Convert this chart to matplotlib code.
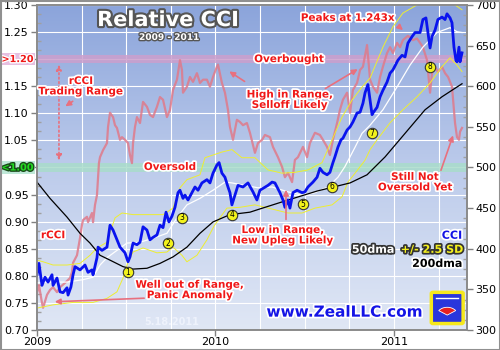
import numpy as np
import matplotlib
matplotlib.use('Agg')
from matplotlib import pyplot as plt
from matplotlib import patheffects as pe
from matplotlib.ticker import MultipleLocator, FuncFormatter
from matplotlib.colors import LinearSegmentedColormap
from matplotlib.patches import FancyBboxPatch, Rectangle, Wedge

# rCCI, years since 2009 -> ratio (left axis)
rcci_yr = [0.000, 0.011, 0.028, 0.034, 0.056, 0.073, 0.090, 0.112, 0.129, 0.157,
           0.185, 0.196, 0.202, 0.224, 0.241, 0.252, 0.258, 0.280, 0.286, 0.308,
           0.314, 0.325, 0.336, 0.342, 0.347, 0.353, 0.370, 0.392, 0.398, 0.409,
           0.426, 0.437, 0.448, 0.465, 0.476, 0.493, 0.510, 0.521, 0.532, 0.538,
           0.549, 0.560, 0.577, 0.594, 0.616, 0.633, 0.650, 0.672, 0.689, 0.706,
           0.728, 0.745, 0.762, 0.784, 0.801, 0.812, 0.818, 0.840, 0.857, 0.874,
           0.896, 0.913, 0.930, 0.952, 0.969, 0.986, 1.008, 1.014, 1.036, 1.053,
           1.070, 1.081, 1.098, 1.120, 1.137, 1.154, 1.176, 1.193, 1.221, 1.238,
           1.261, 1.277, 1.305, 1.322, 1.350, 1.373, 1.389, 1.406, 1.429, 1.445,
           1.462, 1.490, 1.513, 1.529, 1.557, 1.585, 1.602, 1.625, 1.641, 1.658,
           1.681, 1.697, 1.714, 1.737, 1.754, 1.770, 1.793, 1.810, 1.826, 1.849,
           1.866, 1.882, 1.905, 1.922, 1.938, 1.961, 1.978, 1.994, 2.017, 2.034,
           2.050, 2.078, 2.106, 2.129, 2.146, 2.162, 2.185, 2.190, 2.202, 2.213,
           2.230, 2.246, 2.269, 2.286, 2.303, 2.325, 2.331, 2.342, 2.353, 2.364,
           2.370, 2.381]
rcci = [0.768, 0.783, 0.750, 0.741, 0.765, 0.774, 0.779, 0.770, 0.779, 0.787,
        0.796, 0.807, 0.824, 0.838, 0.870, 0.894, 0.903, 0.909, 0.899, 0.916,
        0.899, 0.931, 0.949, 0.981, 1.008, 1.019, 1.032, 1.045, 1.075, 1.101,
        1.093, 1.078, 1.073, 1.051, 1.056, 1.051, 1.045, 1.023, 1.008, 1.045,
        1.075, 1.093, 1.082, 1.121, 1.112, 1.097, 1.093, 1.112, 1.130, 1.125,
        1.093, 1.106, 1.143, 1.162, 1.198, 1.180, 1.138, 1.149, 1.167, 1.158,
        1.174, 1.156, 1.162, 1.162, 1.149, 1.167, 1.186, 1.190, 1.156, 1.138,
        1.106, 1.075, 1.051, 1.088, 1.084, 1.078, 1.082, 1.064, 1.027, 1.045,
        1.051, 1.060, 1.056, 1.038, 1.019, 1.001, 0.982, 0.990, 0.973, 1.014,
        1.019, 1.038, 1.019, 1.045, 1.064, 1.060, 1.051, 1.038, 1.023, 1.051,
        1.082, 1.106, 1.125, 1.138, 1.101, 1.143, 1.156, 1.180, 1.186, 1.226,
        1.162, 1.149, 1.138, 1.167, 1.186, 1.211, 1.222, 1.211, 1.230, 1.222,
        1.235, 1.243, 1.235, 1.238, 1.230, 1.222, 1.198, 1.180, 1.138, 1.174,
        1.186, 1.176, 1.186, 1.174, 1.167, 1.149, 1.125, 1.082, 1.056, 1.051,
        1.066, 1.073]

# CCI index (right axis)
cci_yr = [0.000, 0.011, 0.028, 0.045, 0.062, 0.084, 0.090, 0.112, 0.129, 0.146,
          0.168, 0.174, 0.190, 0.202, 0.213, 0.241, 0.269, 0.286, 0.308, 0.314,
          0.336, 0.342, 0.364, 0.392, 0.409, 0.426, 0.448, 0.465, 0.493, 0.510,
          0.521, 0.538, 0.560, 0.577, 0.594, 0.616, 0.633, 0.650, 0.672, 0.689,
          0.706, 0.723, 0.739, 0.756, 0.773, 0.790, 0.801, 0.818, 0.829, 0.846,
          0.868, 0.885, 0.902, 0.924, 0.952, 0.969, 0.986, 1.008, 1.020, 1.036,
          1.053, 1.070, 1.081, 1.092, 1.109, 1.126, 1.154, 1.182, 1.210, 1.232,
          1.249, 1.294, 1.317, 1.333, 1.361, 1.378, 1.389, 1.406, 1.417, 1.434,
          1.457, 1.485, 1.501, 1.518, 1.546, 1.569, 1.585, 1.602, 1.625, 1.641,
          1.658, 1.669, 1.686, 1.703, 1.714, 1.737, 1.754, 1.770, 1.793, 1.810,
          1.826, 1.838, 1.854, 1.866, 1.877, 1.882, 1.905, 1.922, 1.938, 1.961,
          1.978, 1.994, 2.022, 2.045, 2.062, 2.078, 2.101, 2.118, 2.146, 2.162,
          2.179, 2.190, 2.202, 2.213, 2.230, 2.246, 2.269, 2.286, 2.297, 2.314,
          2.325, 2.336, 2.347, 2.353, 2.364, 2.370, 2.381]
cci = [368, 382, 355, 365, 359, 368, 355, 364, 347, 346,
       352, 343, 353, 368, 378, 374, 380, 371, 374, 368,
       389, 402, 398, 402, 429, 423, 411, 402, 395, 384,
       390, 407, 405, 408, 427, 423, 411, 414, 417, 429,
       426, 445, 433, 440, 451, 469, 472, 462, 466, 460,
       469, 476, 472, 481, 485, 481, 493, 503, 506, 493,
       488, 476, 469, 454, 466, 478, 476, 481, 470, 460,
       472, 478, 482, 481, 469, 460, 451, 460, 450, 469,
       472, 469, 470, 476, 482, 488, 499, 494, 491, 494,
       506, 513, 525, 534, 536, 546, 550, 556, 567, 568,
       579, 592, 602, 583, 565, 567, 574, 587, 595, 605,
       616, 620, 632, 638, 636, 653, 661, 666, 666, 682,
       684, 666, 647, 661, 669, 682, 685, 682, 689, 684,
       678, 648, 632, 630, 648, 630, 641]

# 50-day moving average
ma50_yr = [0.000, 0.073, 0.168, 0.258, 0.314, 0.353, 0.392, 0.448, 0.504, 0.577,
           0.650, 0.728, 0.784, 0.840, 0.913, 0.986, 1.053, 1.092, 1.165, 1.238,
           1.317, 1.406, 1.485, 1.557, 1.630, 1.686, 1.725, 1.782, 1.821, 1.866,
           1.938, 2.017, 2.090, 2.162, 2.241, 2.314, 2.353, 2.381]
ma50 = [358, 359, 359, 362, 365, 380, 389, 398, 407, 408,
        413, 419, 438, 454, 462, 472, 482, 481, 478, 475,
        476, 470, 466, 469, 476, 488, 501, 525, 542, 552,
        571, 599, 626, 648, 666, 672, 667, 666]

# +2.5 SD band
upper_yr = [0.000, 0.034, 0.090, 0.168, 0.241, 0.297, 0.336, 0.392, 0.437, 0.476,
            0.538, 0.616, 0.706, 0.762, 0.801, 0.840, 0.913, 0.941, 1.036, 1.092,
            1.148, 1.221, 1.294, 1.373, 1.445, 1.518, 1.597, 1.653, 1.709, 1.765,
            1.821, 1.866, 1.938, 1.994, 2.050, 2.129, 2.202, 2.275, 2.342, 2.381]
upper = [386, 384, 380, 380, 382, 392, 401, 408, 438, 444,
         442, 442, 442, 450, 475, 485, 491, 512, 519, 522,
         512, 512, 497, 493, 494, 497, 506, 534, 562, 583,
         599, 610, 648, 673, 690, 700, 706, 706, 700, 694]

# -2.5 SD band
lower_yr = [0.000, 0.090, 0.202, 0.314, 0.392, 0.448, 0.482, 0.510, 0.538, 0.594,
            0.672, 0.728, 0.762, 0.812, 0.840, 0.896, 0.952, 0.992, 1.064, 1.137,
            1.221, 1.333, 1.406, 1.485, 1.557, 1.653, 1.709, 1.742, 1.782, 1.838,
            1.866, 1.905, 1.978, 2.050, 2.129, 2.202, 2.269, 2.314, 2.353, 2.381]
lower = [327, 331, 334, 334, 339, 347, 364, 384, 396, 401,
         395, 396, 402, 392, 384, 392, 411, 428, 450, 451,
         454, 448, 444, 444, 450, 454, 464, 482, 493, 509,
         522, 534, 555, 571, 587, 604, 624, 635, 626, 618]

# 200-day moving average
ma200_yr = [0.000, 0.073, 0.168, 0.241, 0.297, 0.353, 0.409, 0.482, 0.538, 0.616,
            0.689, 0.762, 0.840, 0.913, 0.986, 1.081, 1.193, 1.249, 1.378, 1.569,
            1.754, 1.849, 1.950, 2.062, 2.174, 2.269, 2.381]
ma200 = [482, 462, 439, 419, 407, 392, 386, 378, 375, 376,
         382, 390, 402, 419, 433, 442, 445, 449, 458, 471,
         481, 491, 513, 542, 571, 587, 603]

# numbered buy points on the CCI
marker_yr = [0.510, 0.734, 0.812, 1.092, 1.490, 1.653, 1.877, 2.202]
marker_cci = [371, 407, 438, 442, 455, 476, 542, 624]
marker_lbl = ['1', '2', '3', '4', '5', '6', '7', '8']

left_ticks = np.arange(0.70, 1.301, 0.05)
year_ticks = [2009, 2010, 2011]

RED = '#f01818'
ARROW = '#e8707e'


def yrs(a):
    return 2009 + np.asarray(a)


fig = plt.figure(figsize=(5, 3.5), dpi=100)
ax = fig.add_axes([0.074, 0.057, 0.86, 0.929])
ax2 = ax.twinx()
ax2.patch.set_visible(False)

# blue gradient plot background
grad = np.linspace(0, 1, 256)[:, None]
bg = LinearSegmentedColormap.from_list('bg', ['#e0e7f5', '#bccbeb', '#8ba4db'])
ax.imshow(grad, extent=[0, 1, 0, 1], transform=ax.transAxes, cmap=bg,
          origin='lower', aspect='auto', zorder=0)

ax.axhspan(1.193, 1.207, color='#cc9fcc', alpha=0.85, zorder=1, lw=0)
ax.axhspan(0.992, 1.008, color='#a9dccb', alpha=0.85, zorder=1, lw=0)

ax.plot(yrs(rcci_yr), rcci, color='#e07a8a', lw=1.6, alpha=0.85, zorder=3)

ax2.plot(yrs(upper_yr), upper, color='#eeee30', lw=0.7)
ax2.plot(yrs(lower_yr), lower, color='#eeee30', lw=0.7)
ax2.plot(yrs(ma50_yr), ma50, color='white', lw=0.9)
ax2.plot(yrs(ma200_yr), ma200, color='black', lw=0.9)
ax2.plot(yrs(cci_yr), cci, color='#0a14ee', lw=2.0)

for t, c, s in zip(yrs(marker_yr), marker_cci, marker_lbl):
    ax2.plot(t, c, 'o', ms=7.5, mfc='#f2f21c', mec='#333333', mew=0.8, zorder=5)
    ax2.text(t, c, s, fontsize=5.5, ha='center', va='center', zorder=6)

# axes, ticks, grid
ax.set_xlim(2009, 2011.409)
ax.set_ylim(0.70, 1.30)
ax2.set_ylim(300, 700)
ax.set_xticks(year_ticks)
ax.set_xticklabels([str(y) for y in year_ticks])
ax.xaxis.set_minor_locator(MultipleLocator(0.25))
ax.set_yticks(left_ticks)
ax.yaxis.set_minor_locator(MultipleLocator(0.05 / 3))
ax.yaxis.set_major_formatter(FuncFormatter(
    lambda v, p: '' if abs(v - 1.2) < 1e-6 or abs(v - 1.0) < 1e-6 else '%.2f' % v))
ax2.yaxis.set_major_locator(MultipleLocator(50))
ax2.yaxis.set_minor_locator(MultipleLocator(12.5))

ax.grid(True, which='major', axis='y', color='white', lw=0.8, zorder=0.5)
ax.grid(True, which='both', axis='x', color='white', lw=0.8, zorder=0.5)
ax.set_axisbelow(True)

for a in (ax, ax2):
    a.tick_params(which='major', direction='out', length=4, width=1,
                  color='#808080', labelsize=8, pad=2)
    a.tick_params(which='minor', direction='in', length=3, width=1, color='#a0a0a0')
    for sp in a.spines.values():
        sp.set_color('#8a8a8a')
        sp.set_linewidth(1.2)
ax.tick_params(axis='x', which='minor', length=0)
ax.tick_params(axis='x', pad=1)

# highlighted range labels on the left axis
lbl_tr = ax.get_yaxis_transform()
ax.text(-0.008, 1.20, '>1.20', transform=lbl_tr, ha='right', va='center', fontsize=7,
        fontweight='bold', color=RED, clip_on=False,
        path_effects=[pe.withStroke(linewidth=2, foreground='white')],
        bbox=dict(fc='#e6bfe0', ec='none', pad=0.8))
ax.text(-0.008, 1.00, '<1.00', transform=lbl_tr, ha='right', va='center', fontsize=7,
        fontweight='bold', color='#22dd22', clip_on=False,
        path_effects=[pe.withStroke(linewidth=2, foreground='#1a4a1a')],
        bbox=dict(fc='#bfe8d8', ec='none', pad=0.8))

# annotations, drawn on top of all lines
T = ax.transData
red_fx = [pe.withStroke(linewidth=2.5, foreground='white')]


def note(x, y, s, **kw):
    opts = dict(fontsize=7.5, fontweight='bold', color=RED, ha='center', va='center',
                linespacing=1.05, path_effects=red_fx, zorder=8)
    opts.update(kw)
    ax2.text(x, y, s, transform=T, **opts)


def arrow(x0, y0, x1, y1, **kw):
    props = dict(arrowstyle='-|>', color=ARROW, lw=1.2, mutation_scale=8)
    props.update(kw)
    ax2.annotate('', xy=(x1, y1), xycoords=T, xytext=(x0, y0), textcoords=T,
                 arrowprops=props, zorder=7)


ax2.text(2009.734, 1.272, 'Relative CCI', transform=T, ha='center', va='center',
         fontsize=15, fontweight='bold', color='white', zorder=8,
         path_effects=[pe.withStroke(linewidth=3, foreground='#555555')])
ax2.text(2009.739, 1.240, '2009 - 2011', transform=T, ha='center', va='center',
         fontsize=6.5, fontweight='bold', color='white', zorder=8,
         path_effects=[pe.withStroke(linewidth=2, foreground='#555555')])

note(2009.246, 1.150, 'rCCI\nTrading Range')
arrow(2009.123, 1.008, 2009.123, 1.195, arrowstyle='<|-|>', ls=':', lw=1.2)
arrow(2009.213, 1.125, 2009.146, 1.110)
note(2009.745, 1.001, 'Oversold')
note(2010.412, 1.200, 'Overbought')
note(2010.417, 1.125, 'High in Range,\nSelloff Likely')
arrow(2010.176, 1.156, 2010.064, 1.180)
arrow(2010.602, 1.143, 2010.810, 1.184)
note(2010.742, 1.276, 'Peaks at 1.243x')
arrow(2011.017, 1.263, 2011.062, 1.250)
note(2011.118, 0.973, 'Still Not\nOversold Yet')
arrow(2011.258, 0.990, 2011.336, 1.064)
note(2010.378, 0.875, 'Low in Range,\nNew Upleg Likely')
arrow(2010.395, 0.899, 2010.395, 0.964)
note(2009.090, 0.875, 'rCCI')
note(2009.857, 0.774, 'Well out of Range,\nPanic Anomaly')
arrow(2009.616, 0.759, 2009.084, 0.752)

ax2.text(2009.756, 0.715, '5.18.2011', transform=T, ha='center', va='center',
         fontsize=7, fontweight='bold', color='#eef2fc', zorder=8)
ax2.text(2010.720, 0.733, 'www.ZealLLC.com', transform=T, ha='center', va='center',
         fontsize=11, fontweight='bold', color='#1414e6', zorder=8,
         path_effects=[pe.withStroke(linewidth=2.5, foreground='white')])

legend_fx = [pe.withStroke(linewidth=2.5, foreground='#333333')]
ax2.text(2011.381, 0.874, 'CCI', transform=T, ha='right', va='center', fontsize=8,
         fontweight='bold', color='#1414e6', zorder=8,
         path_effects=[pe.withStroke(linewidth=2.5, foreground='white')])
ax2.text(2010.882, 0.848, '50dma', transform=T, ha='center', va='center', fontsize=8,
         fontweight='bold', color='white', zorder=8, path_effects=legend_fx)
ax2.text(2011.213, 0.848, '+/- 2.5 SD', transform=T, ha='center', va='center', fontsize=8,
         fontweight='bold', color='#f4f020', zorder=8, path_effects=legend_fx)
ax2.text(2011.381, 0.822, '200dma', transform=T, ha='right', va='center', fontsize=8,
         fontweight='bold', color='black', zorder=8,
         path_effects=[pe.withStroke(linewidth=2.5, foreground='white')])

# small logo badge, bottom right
lx, ly, lw_, lh = 0.921, 0.024, 0.066, 0.088
ax2.add_patch(FancyBboxPatch((lx, ly), lw_, lh, boxstyle='round,pad=0.004',
                             transform=ax2.transAxes, fc='#2a36dc', ec='#f6e81c',
                             lw=2.5, zorder=8))
ax2.add_patch(Wedge((lx + lw_ / 2, ly + lh * 0.25), 0.024, 35, 145,
                    transform=ax2.transAxes, fc='#e82020', ec='white', lw=0.6, zorder=9))
ax2.plot([lx + 0.008, lx + lw_ - 0.008], [ly + lh - 0.012, ly + lh - 0.012],
         color='white', lw=1, transform=ax2.transAxes, zorder=9)

fig.add_artist(Rectangle((0.001, 0.001), 0.998, 0.997, transform=fig.transFigure,
                         fill=False, ec='#909090', lw=1.5))

fig.savefig('out.png', dpi=100)
